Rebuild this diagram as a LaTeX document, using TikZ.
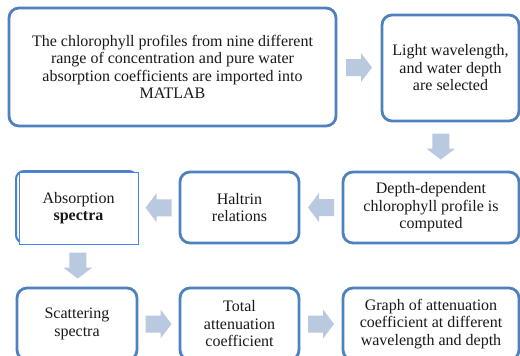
\documentclass[tikz,border=0pt]{standalone}
\usepackage{fontspec}
\setmainfont{Liberation Serif}
\usetikzlibrary{calc}
\definecolor{boxline}{RGB}{79,129,189}
\definecolor{arrfill}{RGB}{185,201,224}
\definecolor{brightline}{RGB}{66,133,244}
\begin{document}
\begin{tikzpicture}[x=1pt,y=-1pt,
  txt/.style={align=center, inner sep=0pt, text=black!90, font=\fontsize{16}{17.5}\selectfont},
  flowbox/.style={txt, draw=boxline, line width=2.8pt, rounded corners=10pt, fill=white},
  plainbox/.style={txt, draw=brightline, line width=1pt, fill=white},
  blockarrow/.pic={\fill[arrfill] (-13,-8.5) -- (2,-8.5) -- (2,-14.5) -- (13,0) -- (2,14.5) -- (2,8.5) -- (-13,8.5) -- cycle;}]
\useasboundingbox (0,0) rectangle (520,356);
\clip (0,0) rectangle (520,356);
\fill[white] (0,0) rectangle (520,356);
% row 1
\node[flowbox, minimum width=327pt, minimum height=118pt] (b1) at (172.5,67)
  {The chlorophyll profiles from nine different\\range of concentration and pure water\\absorption coefficients are imported into\\MATLAB};
\node[flowbox, minimum width=137pt, minimum height=106pt] (b2) at (450.5,68)
  {Light wavelength,\\and water depth\\are selected};
% row 2
\node[flowbox, minimum width=176pt, minimum height=71pt] (b3) at (431,207.5)
  {Depth-dependent\\chlorophyll profile is\\computed};
\node[flowbox, minimum width=119pt, minimum height=71pt] (b4) at (239.5,207.5)
  {Haltrin\\relations};
\draw[boxline, line width=2pt, rounded corners=8pt] (16,171) rectangle (137,243);
\node[plainbox, minimum width=119pt, minimum height=72pt] (b5) at (78.5,208)
  {Absorption\\\textbf{spectra}};
% row 3
\node[flowbox, minimum width=120pt, minimum height=72pt] (b6) at (77,324)
  {Scattering\\spectra};
\node[flowbox, minimum width=119pt, minimum height=72pt] (b7) at (239.5,324)
  {Total\\attenuation\\coefficient};
\node[flowbox, minimum width=176pt, minimum height=72pt] (b8) at (431,324)
  {Graph of attenuation\\coefficient at different\\wavelength and depth};
% block arrows
\pic at ($(b1.east)!0.5!(b2.west)$) {blockarrow};
\pic[rotate=-90] at ($(b2.south)!0.5!(b3.north)$) {blockarrow};
\pic[rotate=180] at ($(b3.west)!0.5!(b4.east)$) {blockarrow};
\pic[rotate=180] at ($(b4.west)!0.5!(b5.east)$) {blockarrow};
\pic[rotate=-90] at ($(b5.south)!0.5!(b6.north)$) {blockarrow};
\pic at ($(b6.east)!0.5!(b7.west)$) {blockarrow};
\pic at ($(b7.east)!0.5!(b8.west)$) {blockarrow};
\end{tikzpicture}
\end{document}
